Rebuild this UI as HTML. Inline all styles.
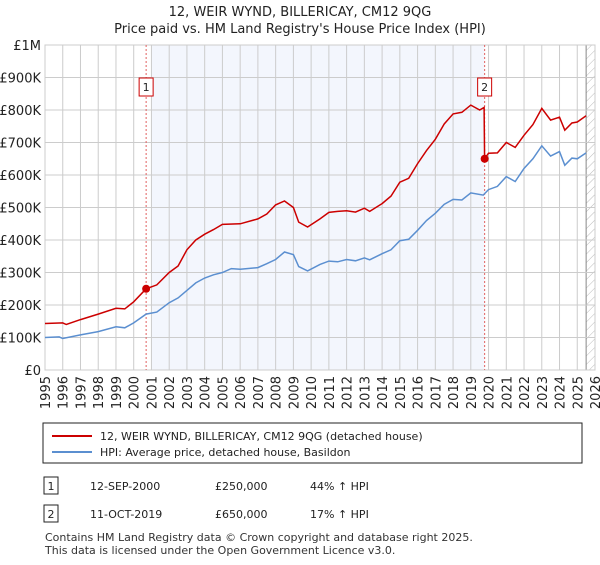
<!DOCTYPE html>
<html><head><meta charset="utf-8"><style>
body{margin:0;background:#fff;font-family:"Liberation Sans","DejaVu Sans",sans-serif;}
svg text{font-family:"DejaVu Sans","Liberation Sans",sans-serif;}
</style></head><body>
<svg id="chart" width="600" height="560" viewBox="0 0 600 560">
<defs><pattern id="hatch" width="6" height="6" patternUnits="userSpaceOnUse" patternTransform="rotate(45)"><line x1="0" y1="0" x2="0" y2="6" stroke="#bbb" stroke-width="1"/></pattern></defs>
<text x="300" y="16" text-anchor="middle" font-size="13" fill="#222">12, WEIR WYND, BILLERICAY, CM12 9QG</text>
<text x="300" y="33" text-anchor="middle" font-size="13" fill="#222">Price paid vs. HM Land Registry's House Price Index (HPI)</text>
<g id="plot"></g>
<rect x="43" y="423" width="539" height="40" fill="#fff" stroke="#222"/>
<line x1="52" y1="436" x2="92" y2="436" stroke="#cc0000" stroke-width="2"/>
<text x="100" y="440" font-size="11" fill="#222">12, WEIR WYND, BILLERICAY, CM12 9QG (detached house)</text>
<line x1="52" y1="452" x2="92" y2="452" stroke="#5b8fd0" stroke-width="2"/>
<text x="100" y="456" font-size="11" fill="#222">HPI: Average price, detached house, Basildon</text>
<rect x="44" y="477" width="14" height="17" fill="#fff" stroke="#222"/>
<text x="51" y="490" text-anchor="middle" font-size="11" fill="#222">1</text>
<text x="90" y="490" font-size="11" fill="#222">12-SEP-2000</text>
<text x="215" y="490" font-size="11" fill="#222">£250,000</text>
<text x="310" y="490" font-size="11" fill="#222">44% ↑ HPI</text>
<rect x="44" y="505" width="14" height="17" fill="#fff" stroke="#222"/>
<text x="51" y="518" text-anchor="middle" font-size="11" fill="#222">2</text>
<text x="90" y="518" font-size="11" fill="#222">11-OCT-2019</text>
<text x="215" y="518" font-size="11" fill="#222">£650,000</text>
<text x="310" y="518" font-size="11" fill="#222">17% ↑ HPI</text>
<text x="45" y="541" font-size="11" fill="#333">Contains HM Land Registry data © Crown copyright and database right 2025.</text>
<text x="45" y="554" font-size="11" fill="#333">This data is licensed under the Open Government Licence v3.0.</text>
</svg>
<script>
const hpiYears=[1995,1995.8,1996,1997,1998,1999,1999.5,2000,2000.7,2001.3,2002,2002.5,2003,2003.5,2004,2004.5,2005,2005.5,2006,2007,2007.5,2008,2008.5,2009,2009.3,2009.8,2010.5,2011,2011.5,2012,2012.5,2013,2013.3,2014,2014.5,2015,2015.5,2016,2016.5,2017,2017.5,2018,2018.5,2019,2019.7,2020,2020.5,2021,2021.5,2022,2022.5,2023,2023.5,2024,2024.3,2024.7,2025,2025.5];
const hpiValues=[100,102,97,108,118,133,130,145,172,178,207,222,245,268,283,293,300,312,310,315,327,340,363,355,318,305,325,335,333,340,336,345,339,358,370,398,402,430,460,482,510,525,523,545,538,555,565,595,580,620,650,690,658,672,630,652,650,668];
const priceYears=[1995,1996,1996.2,1997,1998,1999,1999.5,2000,2000.7,2001.3,2002,2002.5,2003,2003.5,2004,2004.5,2005,2006,2007,2007.5,2008,2008.5,2009,2009.3,2009.8,2010.5,2011,2011.5,2012,2012.5,2013,2013.3,2014,2014.5,2015,2015.5,2016,2016.5,2017,2017.5,2018,2018.5,2019,2019.5,2019.75,2019.78,2020,2020.5,2021,2021.5,2022,2022.5,2023,2023.5,2024,2024.3,2024.7,2025,2025.5];
const priceValues=[143,145,140,155,172,190,188,210,250,262,300,320,370,400,418,432,448,450,465,480,508,520,500,455,440,465,485,488,490,486,498,488,512,535,578,590,635,675,710,757,788,793,815,800,808,650,667,668,700,685,722,755,805,769,778,738,760,763,782];
const saleYears=[2000.7,2019.78];
const saleValues=[250,650];
const saleLabels=["1","2"];
const yTicks=[0,100,200,300,400,500,600,700,800,900,1000];
const yTickLabels=["£0","£100K","£200K","£300K","£400K","£500K","£600K","£700K","£800K","£900K","£1M"];
const xTicks=[1995,1996,1997,1998,1999,2000,2001,2002,2003,2004,2005,2006,2007,2008,2009,2010,2011,2012,2013,2014,2015,2016,2017,2018,2019,2020,2021,2022,2023,2024,2025,2026];
const X0=45,X1=595,Y0=370,Y1=45;
const x=v=>X0+(v-1995)/(2026-1995)*(X1-X0);
const y=v=>Y0-v/1000*(Y0-Y1);
const NS="http://www.w3.org/2000/svg";
const g=document.getElementById('plot');
function mk(t,a){const e=document.createElementNS(NS,t);for(const k in a)e.setAttribute(k,a[k]);g.appendChild(e);return e;}
let e=mk('rect',{x:X0,y:Y1,width:X1-X0,height:Y0-Y1,fill:'#fff',stroke:'#ccc'});


e=mk('rect',{x:x(2001),y:Y1,width:x(2019.78)-x(2001),height:Y0-Y1,fill:'#f3f6fd'});


e=mk('rect',{x:x(2025.5),y:Y1,width:X1-x(2025.5),height:Y0-Y1,fill:'url(#hatch)'});


mk('line',{x1:x(2025.5),x2:x(2025.5),y1:Y1,y2:Y0,stroke:'#888'});
yTicks.forEach((t,i)=>{
 e=mk('line',{x1:X0,x2:X1,y1:y(t),y2:y(t),stroke:'#ccc'});
 
 
 e=mk('text',{x:X0-4,y:y(t)+5,'text-anchor':'end','font-size':13,fill:'#222'});e.textContent=yTickLabels[i];
 
 
});
xTicks.forEach(t=>{
 e=mk('line',{x1:x(t),x2:x(t),y1:Y1,y2:Y0,stroke:'#ccc'});
 
 
 e=mk('text',{x:x(t)+5,y:Y0+6,'text-anchor':'end','font-size':13,fill:'#222',transform:`rotate(-90 ${x(t)+5} ${Y0+6})`});e.textContent=t;
 
 
});
saleYears.forEach((s,i)=>{
 e=mk('line',{x1:x(s),x2:x(s),y1:Y1,y2:Y0,stroke:'#e06060','stroke-dasharray':'2,2'});
 
 
});
const pts=(xs,vs)=>xs.map((v,i)=>x(v).toFixed(1)+','+y(vs[i]).toFixed(1)).join(' ');
e=mk('polyline',{points:pts(hpiYears,hpiValues),fill:'none',stroke:'#5b8fd0','stroke-width':1.5});


e=mk('polyline',{points:pts(priceYears,priceValues),fill:'none',stroke:'#cc0000','stroke-width':1.5});


saleYears.forEach((s,i)=>{
 e=mk('circle',{cx:x(s),cy:y(saleValues[i]),r:4,fill:'#cc0000'});
 
 
 e=mk('rect',{x:x(s)-7,y:78,width:14,height:18,fill:'#fff',stroke:'#cc0000'});
 
 
 e=mk('text',{x:x(s),y:91,'text-anchor':'middle','font-size':11,fill:'#222'});e.textContent=saleLabels[i];
 
 
});
</script>
</body></html>
